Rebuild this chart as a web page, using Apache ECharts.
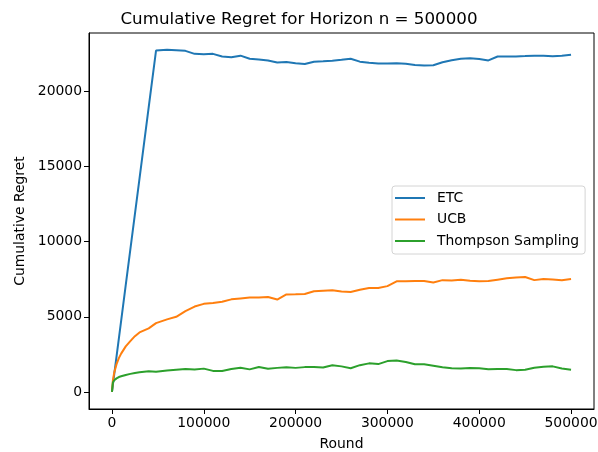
<!DOCTYPE html>
<html>
<head>
<meta charset="UTF-8">
<title>Cumulative Regret</title>
<script src="https://cdn.jsdelivr.net/npm/echarts@6/dist/echarts.min.js"></script>
<style>
  html, body { margin: 0; padding: 0; background: #fff; }
  #main { width: 598px; height: 452px; }
</style>
</head>
<body>
<div id="main"></div>
<script>
// rounds sampled along the horizon
var rounds = [0, 1000, 2500, 5000, 7500, 10000, 15000, 20000, 25000, 30000, 40000, 48000, 50000,
  60000, 70000, 80000, 90000, 100000, 110000, 120000, 130000, 140000, 150000, 160000, 170000,
  180000, 190000, 200000, 210000, 220000, 230000, 240000, 250000, 260000, 270000, 280000,
  290000, 300000, 310000, 320000, 330000, 340000, 350000, 360000, 370000, 380000, 390000,
  400000, 410000, 420000, 430000, 440000, 450000, 460000, 470000, 480000, 490000, 500000];

var etc = [0, 473, 1183, 2367, 3550, 4734, 7100, 9468, 11835, 14200, 18936, 22720, 22740,
  22770, 22740, 22700, 22500, 22480, 22500, 22320, 22280, 22380, 22170, 22130, 22050,
  21930, 21950, 21880, 21820, 21970, 22000, 22040, 22100, 22170, 21980, 21900,
  21860, 21850, 21880, 21840, 21760, 21720, 21740, 21940, 22080, 22180, 22210,
  22150, 22060, 22320, 22320, 22330, 22350, 22380, 22380, 22340, 22370, 22440];

var ucb = [0, 750, 1300, 1850, 2250, 2550, 3030, 3380, 3710, 3960, 4230, 4580, 4620,
  4830, 5000, 5380, 5680, 5860, 5920, 6000, 6160, 6220, 6280, 6280, 6320,
  6150, 6490, 6500, 6520, 6700, 6740, 6760, 6680, 6650, 6800, 6920,
  6920, 7040, 7360, 7370, 7390, 7380, 7280, 7440, 7420, 7460, 7400,
  7360, 7380, 7470, 7560, 7620, 7650, 7440, 7520, 7480, 7430, 7520];

var thompson = [0, 620, 780, 900, 990, 1040, 1130, 1200, 1265, 1310, 1375, 1340, 1330,
  1430, 1480, 1520, 1490, 1550, 1400, 1390, 1520, 1610, 1500, 1660, 1540,
  1600, 1640, 1600, 1650, 1650, 1620, 1770, 1700, 1580, 1780, 1900,
  1850, 2050, 2090, 1990, 1840, 1840, 1740, 1640, 1570, 1560, 1590,
  1580, 1510, 1530, 1520, 1450, 1470, 1610, 1680, 1700, 1560, 1480];

var xTicks = [0, 100000, 200000, 300000, 400000, 500000];
var yTicks = [0, 5000, 10000, 15000, 20000];
var names = ['ETC', 'UCB', 'Thompson Sampling'];
var colors = ['#1f77b4', '#ff7f0e', '#2ca02c'];

function pairs(vals) {
  return rounds.map(function (r, i) { return [r, vals[i]]; });
}
function plain(v) { return String(v); }

var font = 'DejaVu Sans';
var chart = echarts.init(document.getElementById('main'), null, { renderer: 'canvas' });

chart.setOption({
  animation: false,
  backgroundColor: '#fff',
  title: {
    text: 'Cumulative Regret for Horizon n = 500000',
    left: 'center',
    top: 6,
    textStyle: { fontFamily: font, fontSize: 16.7, fontWeight: 'normal', color: '#000' }
  },
  grid: {
    left: 89, right: 4, top: 33, bottom: 43,
    outerBoundsMode: 'none',
    show: true, borderColor: '#000', borderWidth: 1, backgroundColor: 'transparent'
  },
  legend: {
    data: names,
    orient: 'vertical',
    left: 392, top: 186,
    padding: [5, 6, 6, 3],
    itemWidth: 30, itemHeight: 14, itemGap: 7.5,
    icon: 'path://M0,0L30,0L30,2L0,2Z',
    borderColor: '#d4d4d4', borderWidth: 1, borderRadius: 3,
    backgroundColor: 'rgba(255,255,255,0.8)',
    textStyle: { fontFamily: font, fontSize: 13.9, color: '#000', padding: [0, 0, 0, 7] }
  },
  xAxis: {
    type: 'value',
    min: -25000, max: 525000,
    name: 'Round',
    nameLocation: 'middle',
    nameGap: 28,
    nameTextStyle: { fontFamily: font, fontSize: 13.9, color: '#000' },
    axisLine: { show: true, onZero: false, lineStyle: { color: '#000', width: 1 } },
    axisTick: { show: true, inside: false, length: 5, lineStyle: { color: '#000' }, customValues: xTicks },
    axisLabel: { fontFamily: font, fontSize: 13.9, color: '#000', margin: 7, customValues: xTicks, formatter: plain },
    splitLine: { show: false }
  },
  yAxis: {
    type: 'value',
    min: -1137, max: 23887,
    name: 'Cumulative Regret',
    nameLocation: 'middle',
    nameGap: 62,
    nameTextStyle: { fontFamily: font, fontSize: 13.9, color: '#000' },
    axisLine: { show: true, onZero: false, lineStyle: { color: '#000', width: 1 } },
    axisTick: { show: true, inside: false, length: 5, lineStyle: { color: '#000' }, customValues: yTicks },
    axisLabel: { fontFamily: font, fontSize: 13.9, color: '#000', margin: 7, customValues: yTicks, formatter: plain },
    splitLine: { show: false }
  },
  series: [
    { name: names[0], type: 'line', data: pairs(etc), symbol: 'none', lineStyle: { width: 2, color: colors[0] }, itemStyle: { color: colors[0] } },
    { name: names[1], type: 'line', data: pairs(ucb), symbol: 'none', lineStyle: { width: 2, color: colors[1] }, itemStyle: { color: colors[1] } },
    { name: names[2], type: 'line', data: pairs(thompson), symbol: 'none', lineStyle: { width: 2, color: colors[2] }, itemStyle: { color: colors[2] } }
  ]
});
</script>
</body>
</html>
